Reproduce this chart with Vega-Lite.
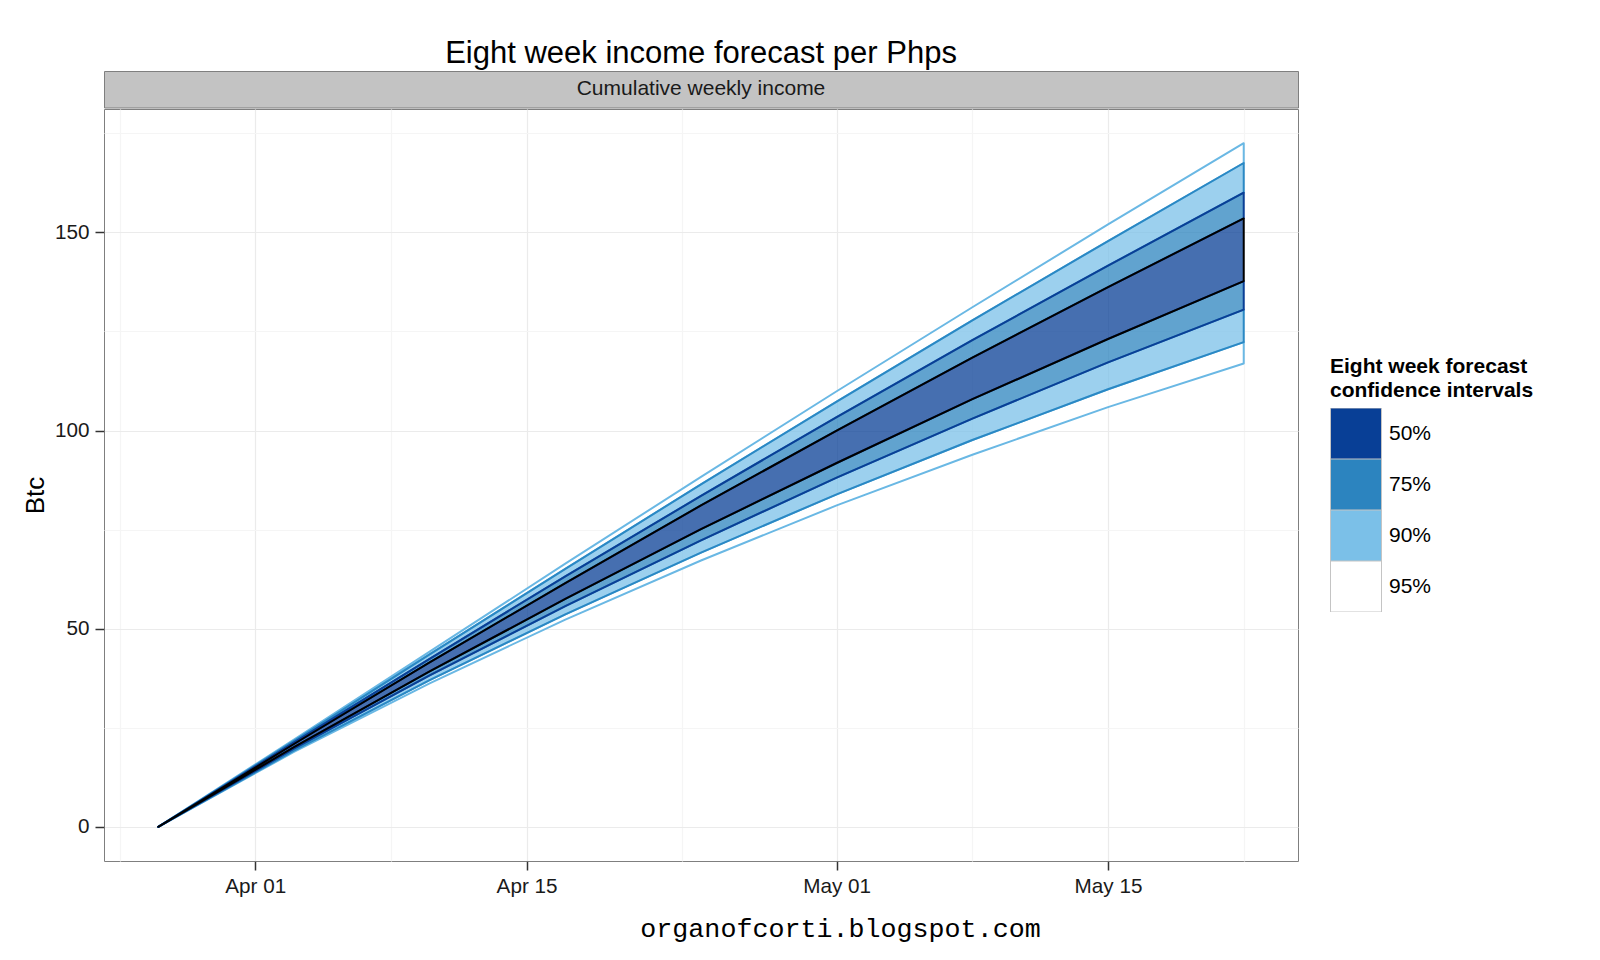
{
  "$schema": "https://vega.github.io/schema/vega-lite/v6.json",
  "background": "white",
  "padding": {"left": 21, "top": 37, "right": 5, "bottom": 5},
  "spacing": 0,
  "vconcat": [
    {
      "width": 1194,
      "height": 36.5,
      "title": {
        "text": "Eight week income forecast per Phps",
        "font": "Liberation Sans",
        "fontSize": 31,
        "fontWeight": "normal",
        "color": "#000000",
        "anchor": "middle",
        "frame": "group",
        "baseline": "bottom",
        "offset": -30
      },
      "view": {"fill": "#C3C3C3", "stroke": "#7F7F7F", "strokeWidth": 1},
      "data": {"values": [{"label": "Cumulative weekly income"}]},
      "mark": {"type": "text", "font": "Liberation Sans", "fontSize": 21, "color": "#1A1A1A", "baseline": "middle", "align": "center"},
      "encoding": {"text": {"field": "label", "type": "nominal"}}
    },
    {
      "width": 1194,
      "height": 752,
      "view": {"stroke": "#7F7F7F", "strokeWidth": 1},
      "data": {
        "values": [
          {"date": "2014-03-27T00:00:00", "l95": 0, "l90": 0, "l75": 0, "l50": 0, "u50": 0, "u75": 0, "u90": 0, "u95": 0},
          {"date": "2014-04-03T00:00:00", "l95": 18.9, "l90": 19.2, "l75": 19.7, "l50": 20.1, "u50": 20.9, "u75": 21.3, "u90": 21.7, "u95": 22.0},
          {"date": "2014-04-10T00:00:00", "l95": 36.2, "l90": 37.0, "l75": 38.2, "l50": 39.2, "u50": 41.5, "u75": 42.4, "u90": 43.5, "u95": 44.2},
          {"date": "2014-04-17T00:00:00", "l95": 52.3, "l90": 53.6, "l75": 55.7, "l50": 57.5, "u50": 61.5, "u75": 63.2, "u90": 65.1, "u95": 66.4},
          {"date": "2014-04-24T00:00:00", "l95": 67.2, "l90": 69.2, "l75": 72.3, "l50": 75.1, "u50": 81.1, "u75": 83.5, "u90": 86.4, "u95": 88.3},
          {"date": "2014-05-01T00:00:00", "l95": 81.1, "l90": 83.9, "l75": 88.1, "l50": 91.8, "u50": 100.0, "u75": 103.4, "u90": 107.3, "u95": 109.9},
          {"date": "2014-05-08T00:00:00", "l95": 93.9, "l90": 97.6, "l75": 103.0, "l50": 107.9, "u50": 118.4, "u75": 122.8, "u90": 127.8, "u95": 131.1},
          {"date": "2014-05-15T00:00:00", "l95": 105.9, "l90": 110.4, "l75": 117.2, "l50": 123.1, "u50": 136.2, "u75": 141.6, "u90": 147.8, "u95": 152.0},
          {"date": "2014-05-22T00:00:00", "l95": 116.9, "l90": 122.3, "l75": 130.5, "l50": 137.7, "u50": 153.5, "u75": 160.0, "u90": 167.5, "u95": 172.5}
        ]
      },
      "encoding": {
        "x": {
          "field": "date",
          "type": "temporal",
          "scale": {
            "domain": [
              {"year": 2014, "month": 3, "date": 24, "hours": 4, "minutes": 48},
              {"year": 2014, "month": 5, "date": 24, "hours": 19, "minutes": 12}
            ],
            "nice": false
          },
          "axis": {
            "values": [
              {"year": 2014, "month": 3, "date": 25},
              {"year": 2014, "month": 4, "date": 1},
              {"year": 2014, "month": 4, "date": 8},
              {"year": 2014, "month": 4, "date": 15},
              {"year": 2014, "month": 4, "date": 23},
              {"year": 2014, "month": 5, "date": 1},
              {"year": 2014, "month": 5, "date": 8},
              {"year": 2014, "month": 5, "date": 15},
              {"year": 2014, "month": 5, "date": 22}
            ],
            "format": "%b %d",
            "labelExpr": "(date(datum.value) === 1 || date(datum.value) === 15) ? datum.label : ''",
            "grid": true,
            "gridColor": {"condition": {"test": "date(datum.value) === 1 || date(datum.value) === 15", "value": "#EBEBEB"}, "value": "#F5F5F5"},
            "gridWidth": 1.2,
            "tickOpacity": {"condition": {"test": "date(datum.value) === 1 || date(datum.value) === 15", "value": 1}, "value": 0},
            "domain": false,
            "tickColor": "#333333",
            "tickSize": 9,
            "tickWidth": 1.5,
            "labelFont": "Liberation Sans",
            "labelFontSize": 20.7,
            "labelColor": "#1A1A1A",
            "labelPadding": 6,
            "labelOverlap": false,
            "labelBound": false,
            "labelFlush": false,
            "title": "organofcorti.blogspot.com",
            "titleFont": "Liberation Mono",
            "titleFontSize": 26.7,
            "titleFontWeight": "normal",
            "titleColor": "#000000",
            "titleX": 736,
            "titleY": 75,
            "titleAlign": "center",
            "titleBaseline": "alphabetic"
          }
        }
      },
      "layer": [
        {
          "mark": {"type": "area", "fillOpacity": 0.75, "stroke": "#6AB8E4", "strokeWidth": 2, "strokeJoin": "round"},
          "encoding": {
            "y": {
              "field": "u95",
              "type": "quantitative",
              "title": "Btc",
              "scale": {"domain": [-8.625, 181.125], "nice": false, "zero": false},
              "axis": {
                "values": [0, 25, 50, 75, 100, 125, 150, 175],
                "labelExpr": "datum.value % 50 === 0 ? datum.label : ''",
                "grid": true,
                "gridColor": {"condition": {"test": "datum.value % 50 === 0", "value": "#EBEBEB"}, "value": "#F5F5F5"},
                "gridWidth": 1.2,
                "tickOpacity": {"condition": {"test": "datum.value % 50 === 0", "value": 1}, "value": 0},
                "domain": false,
                "tickColor": "#333333",
                "tickSize": 9,
                "tickWidth": 1.5,
                "labelFont": "Liberation Sans",
                "labelFontSize": 20.7,
                "labelColor": "#1A1A1A",
                "labelPadding": 6,
                "labelOverlap": false,
                "labelBound": false,
                "labelFlush": false,
                "title": "Btc",
                "titleFont": "Liberation Sans",
                "titleFontSize": 26,
                "titleFontWeight": "normal",
                "titleColor": "#000000",
                "titlePadding": 6,
                "titleY": 386
              }
            },
            "y2": {"field": "u90"},
            "fill": {
              "datum": "95%",
              "type": "nominal",
              "scale": {"domain": ["50%", "75%", "90%", "95%"], "range": ["#083F96", "#2C84BF", "#7BC0E8", "#FFFFFF"]},
              "legend": {
                "title": ["Eight week forecast", "confidence intervals"],
                "orient": "none",
                "legendX": 1226,
                "legendY": 285,
                "titleFont": "Liberation Sans",
                "titleFontSize": 21,
                "titleFontWeight": "bold",
                "titleColor": "#000000",
                "titleLineHeight": 24,
                "titlePadding": 7,
                "titleLimit": 400,
                "labelFont": "Liberation Sans",
                "labelFontSize": 21,
                "labelColor": "#000000",
                "labelOffset": 7,
                "labelLimit": 200,
                "symbolType": "square",
                "symbolSize": 2601,
                "symbolStrokeColor": "#C4C4C4",
                "symbolStrokeWidth": 1,
                "symbolOpacity": 1,
                "rowPadding": 0,
                "clipHeight": 51,
                "encode": {"symbols": {"update": {"fillOpacity": {"value": 1}, "strokeOpacity": {"value": 1}, "stroke": {"value": "#C4C4C4"}, "strokeWidth": {"value": 1}}}}
              }
            }
          }
        },
        {
          "mark": {"type": "area", "fillOpacity": 0.75, "stroke": "#6AB8E4", "strokeWidth": 2, "strokeJoin": "round"},
          "encoding": {
            "y": {"field": "l90", "type": "quantitative", "title": "Btc"},
            "y2": {"field": "l95"},
            "fill": {"datum": "95%", "type": "nominal"}
          }
        },
        {
          "mark": {"type": "area", "fillOpacity": 0.75, "stroke": "#2A88C4", "strokeWidth": 2, "strokeJoin": "round"},
          "encoding": {
            "y": {"field": "u90", "type": "quantitative", "title": "Btc"},
            "y2": {"field": "u75"},
            "fill": {"datum": "90%", "type": "nominal"}
          }
        },
        {
          "mark": {"type": "area", "fillOpacity": 0.75, "stroke": "#2A88C4", "strokeWidth": 2, "strokeJoin": "round"},
          "encoding": {
            "y": {"field": "l75", "type": "quantitative", "title": "Btc"},
            "y2": {"field": "l90"},
            "fill": {"datum": "90%", "type": "nominal"}
          }
        },
        {
          "mark": {"type": "area", "fillOpacity": 0.75, "stroke": "#0A3F96", "strokeWidth": 2, "strokeJoin": "round"},
          "encoding": {
            "y": {"field": "u75", "type": "quantitative", "title": "Btc"},
            "y2": {"field": "u50"},
            "fill": {"datum": "75%", "type": "nominal"}
          }
        },
        {
          "mark": {"type": "area", "fillOpacity": 0.75, "stroke": "#0A3F96", "strokeWidth": 2, "strokeJoin": "round"},
          "encoding": {
            "y": {"field": "l50", "type": "quantitative", "title": "Btc"},
            "y2": {"field": "l75"},
            "fill": {"datum": "75%", "type": "nominal"}
          }
        },
        {
          "mark": {"type": "area", "fillOpacity": 0.75, "stroke": "#000000", "strokeWidth": 2, "strokeJoin": "round"},
          "encoding": {
            "y": {"field": "u50", "type": "quantitative", "title": "Btc"},
            "y2": {"field": "l50"},
            "fill": {"datum": "50%", "type": "nominal"}
          }
        }
      ]
    }
  ]
}
